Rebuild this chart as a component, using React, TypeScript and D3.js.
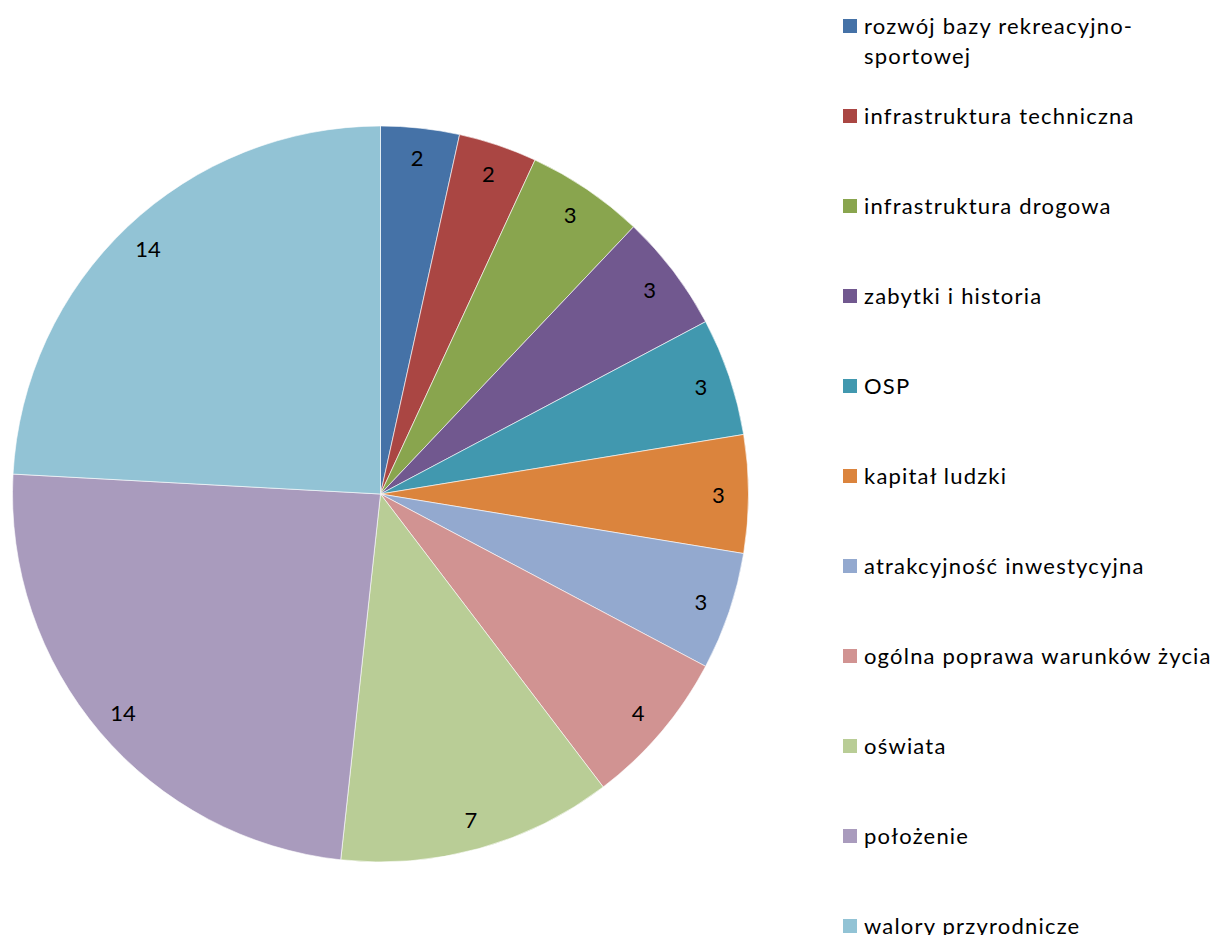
import React from "react";
import * as d3 from "d3";

const categories = [
  "rozwój bazy rekreacyjno-sportowej",
  "infrastruktura techniczna",
  "infrastruktura drogowa",
  "zabytki i historia",
  "OSP",
  "kapitał ludzki",
  "atrakcyjność inwestycyjna",
  "ogólna poprawa warunków życia",
  "oświata",
  "położenie",
  "walory przyrodnicze",
];
const legendLines = [
  ["rozwój bazy rekreacyjno-", "sportowej"],
  ["infrastruktura techniczna"],
  ["infrastruktura drogowa"],
  ["zabytki i historia"],
  ["OSP"],
  ["kapitał ludzki"],
  ["atrakcyjność inwestycyjna"],
  ["ogólna poprawa warunków życia"],
  ["oświata"],
  ["położenie"],
  ["walory przyrodnicze"],
];
const values = [2, 2, 3, 3, 3, 3, 3, 4, 7, 14, 14];
const colors = [
  "#4572A7", "#AA4643", "#89A54E", "#71588F", "#4198AF", "#DB843D",
  "#93A9CF", "#D19392", "#B9CD96", "#A99BBD", "#92C3D5",
];

const W = 1221, H = 935;
const cx = 380.5, cy = 494, R = 368, labelR = 338;
const font = "Lato, 'Open Sans', sans-serif";

export default function App() {
  const data = categories.map((c, i) => ({ c, v: values[i], i }));
  const pie = d3.pie<any>().sort(null).value((d) => d.v);
  const arcs = pie(data);
  const arc = d3.arc<any>().innerRadius(0).outerRadius(R);
  const lab = d3.arc<any>().innerRadius(labelR).outerRadius(labelR);
  const legendY = d3.scaleLinear().domain([0, 1]).range([25, 115]);
  return (
    <svg width={W} height={H} style={{ position: "absolute", left: 0, top: 0 }}>
      <rect width={W} height={H} fill="#fff" />
      <g transform={`translate(${cx},${cy})`}>
        {arcs.map((a, i) => (
          <path key={i} d={arc(a) || ""} fill={colors[i]} stroke="#fff" strokeWidth={0.6} />
        ))}
        {arcs.map((a, i) => {
          const [x, y] = lab.centroid(a);
          return (
            <text key={i} x={x} y={y} textAnchor="middle" dominantBaseline="central"
              fontFamily={font} fontSize={22} fill="#000">{values[i]}</text>
          );
        })}
      </g>
      {legendLines.map((lines, i) => {
        const y = legendY(i);
        return (
          <g key={i}>
            <rect x={843} y={y - 6} width={14} height={14} fill={colors[i]} />
            {lines.map((t, j) => (
              <text key={j} x={864} y={y + j * 30} dominantBaseline="central"
                fontFamily={font} fontSize={22} letterSpacing={1.2} fill="#000">{t}</text>
            ))}
          </g>
        );
      })}
    </svg>
  );
}
